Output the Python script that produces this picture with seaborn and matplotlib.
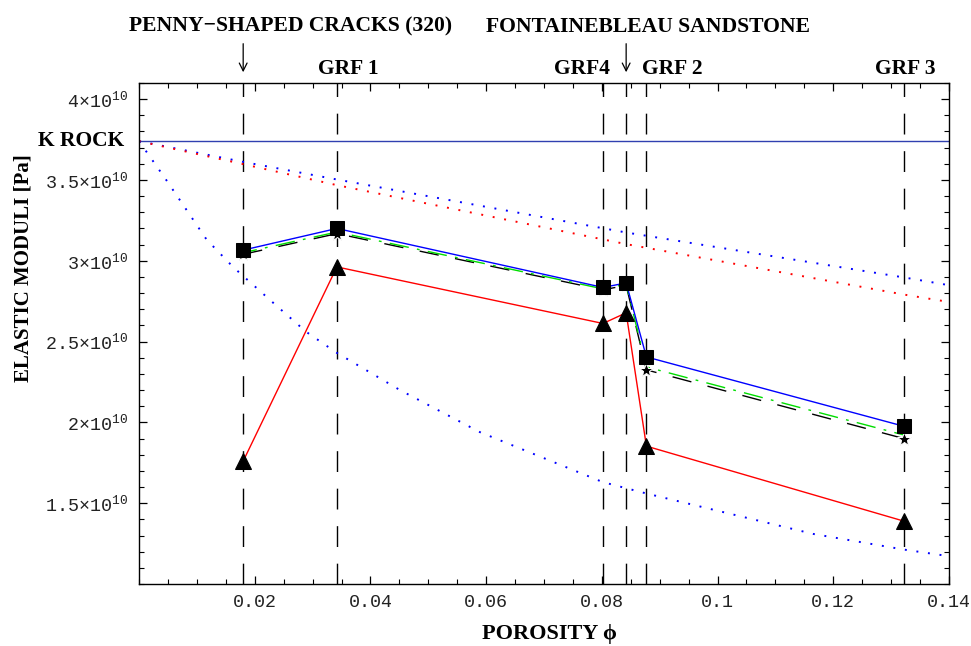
import numpy as np
import pandas as pd
import matplotlib
matplotlib.use("Agg")
import matplotlib.pyplot as plt
import seaborn as sns
from matplotlib.ticker import MultipleLocator, FixedLocator, FixedFormatter

# porosity of the samples (vertical dashed lines)
phi_samples = [0.018, 0.0342, 0.0802, 0.0842, 0.0877, 0.1322]

# moduli, units of 1e10 Pa
k_squares = [3.066, 3.20, 2.835, 2.863, 2.405, 1.976]
k_triangles = [1.76, 2.962, 2.612, 2.678, 1.853, 1.389]
k_stars = [3.04, 3.168, 2.82, 2.848, 2.325, 1.90]
k_green = [3.05, 3.178, 2.826, 2.855, 2.343, 1.922]
k_rock = 3.74

# dotted model curves
phi_upper = [0.0, 0.018, 0.0342, 0.0842, 0.1322, 0.14]
k_upper_blue = [3.74, 3.612, 3.503, 3.175, 2.897, 2.849]
k_upper_red = [3.74, 3.598, 3.468, 3.103, 2.791, 2.745]

phi_lower = [0.0, 0.0047, 0.0117, 0.0163, 0.0235, 0.0289, 0.0342, 0.0451,
             0.0589, 0.0802, 0.0877, 0.1165, 0.1322, 0.14]
k_lower = [3.74, 3.50, 3.13, 2.96, 2.73, 2.56, 2.43, 2.20,
           1.94, 1.63, 1.56, 1.31, 1.213, 1.172]

xtick_vals = [0.02, 0.04, 0.06, 0.08, 0.10, 0.12, 0.14]
xtick_text = ["0.02", "0.04", "0.06", "0.08", "0.1", "0.12", "0.14"]
ytick_vals = [1.5, 2.0, 2.5, 3.0, 3.5, 4.0]
ytick_text = ["1.5", "2", "2.5", "3", "3.5", "4"]

grf_names = ["GRF 1", "GRF4", "GRF 2", "GRF 3"]
grf_pos = [0.0362, 0.0765, 0.0922, 0.1324]

sns.set_style("ticks")
plt.rcParams["font.family"] = ["Liberation Serif", "DejaVu Serif"]
plt.rcParams["mathtext.fontset"] = "custom"
plt.rcParams["mathtext.rm"] = "Liberation Mono"
plt.rcParams["mathtext.it"] = "Liberation Mono:italic"
plt.rcParams["mathtext.bf"] = "Liberation Mono:bold"

fig = plt.figure(figsize=(9.71, 6.46), dpi=100)
ax = fig.add_axes([0.1432, 0.096, 0.8341, 0.7755])

E = 1e10

# K rock
ax.axhline(k_rock * E, color="#3040b0", lw=1.0, zorder=2)

# vertical sample lines
for p in phi_samples:
    ax.axvline(p, color="black", lw=1.0, linestyle=(0, (15, 12)), zorder=1)

dot = (0, (1, 5))
sns.lineplot(x=phi_upper, y=np.array(k_upper_blue) * E, ax=ax, color="blue",
             lw=1.4, linestyle=dot, sort=False, estimator=None)
sns.lineplot(x=phi_upper, y=np.array(k_upper_red) * E, ax=ax, color="red",
             lw=1.4, linestyle=dot, sort=False, estimator=None)
sns.lineplot(x=phi_lower, y=np.array(k_lower) * E, ax=ax, color="blue",
             lw=1.4, linestyle=dot, sort=False, estimator=None)

# model lines with markers
sns.lineplot(x=phi_samples, y=np.array(k_stars) * E, ax=ax, color="black",
             lw=1.0, linestyle=(0, (14, 12)), sort=False, estimator=None, zorder=3)
sns.lineplot(x=phi_samples, y=np.array(k_green) * E, ax=ax, color="#00dd00",
             lw=1.0, linestyle=(4, (14, 6, 2, 6)), sort=False, estimator=None, zorder=3)
sns.lineplot(x=phi_samples, y=np.array(k_stars) * E, ax=ax, color="black",
             marker="*", markersize=10, lw=0, sort=False, estimator=None, zorder=4)
sns.lineplot(x=phi_samples, y=np.array(k_squares) * E, ax=ax, color="blue",
             lw=1.0, marker="s", markersize=9.5, markerfacecolor="black",
             markeredgecolor="black", sort=False, estimator=None, zorder=5)
sns.lineplot(x=phi_samples, y=np.array(k_triangles) * E, ax=ax, color="red",
             lw=1.0, marker="^", markersize=11, markerfacecolor="black",
             markeredgecolor="black", sort=False, estimator=None, zorder=5)

ax.set_xlim(0, 0.14)
ax.set_ylim(1.0 * E, 4.1 * E)
ax.xaxis.set_major_locator(FixedLocator(xtick_vals))
ax.xaxis.set_major_formatter(FixedFormatter(xtick_text))
ax.xaxis.set_minor_locator(MultipleLocator(0.005))
ax.yaxis.set_major_locator(FixedLocator([v * E for v in ytick_vals]))
ax.yaxis.set_major_formatter(FixedFormatter([t + "×10$^{10}$" for t in ytick_text]))
ax.yaxis.set_minor_locator(MultipleLocator(0.1 * E))
ax.tick_params(which="both", direction="in", top=True, right=True, colors="black")
ax.tick_params(which="major", length=6, width=0.9)
ax.tick_params(which="minor", length=3.5, width=0.8)
ax.tick_params(axis="x", which="major", labeltop=False, pad=7)
ax.tick_params(axis="y", which="major", pad=8)
for lab in ax.get_xticklabels() + ax.get_yticklabels():
    lab.set_family("Liberation Mono")
    lab.set_fontsize(13.2)
    lab.set_color("#222222")
for s in ax.spines.values():
    s.set_linewidth(1.0)
    s.set_color("black")
ax.set_xlabel("")
ax.set_ylabel("")

bold = dict(fontweight="bold", color="black")
xt = ax.get_xaxis_transform()
ax.text(-0.018, k_rock * E, "K ROCK", transform=ax.get_yaxis_transform(),
        ha="right", va="center", fontsize=15.5, **bold)
for name, p in zip(grf_names, grf_pos):
    ax.text(p, 1.028, name, transform=xt, ha="center", va="center",
            fontsize=15.5, **bold)
ax.text(0.0262, 1.112, "PENNY\u2212SHAPED CRACKS (320)", transform=xt,
        ha="center", va="center", fontsize=15.6, **bold)
ax.text(0.0880, 1.112, "FONTAINEBLEAU SANDSTONE", transform=xt,
        ha="center", va="center", fontsize=15.6, **bold)
for p in [phi_samples[0], phi_samples[3]]:
    ax.annotate("", xy=(p, 1.016), xytext=(p, 1.084), xycoords=xt, textcoords=xt,
                arrowprops=dict(arrowstyle="->", color="black", lw=0.9,
                                mutation_scale=14))

fig.text(24 / 971, 1 - 268 / 646, "ELASTIC MODULI [Pa]", rotation=90,
         ha="center", va="center", fontsize=15, **bold)
fig.text(549 / 971, 1 - 634 / 646, "POROSITY \u03d5", ha="center", va="center",
         fontsize=16, **bold)

fig.savefig("out.png", dpi=100)
